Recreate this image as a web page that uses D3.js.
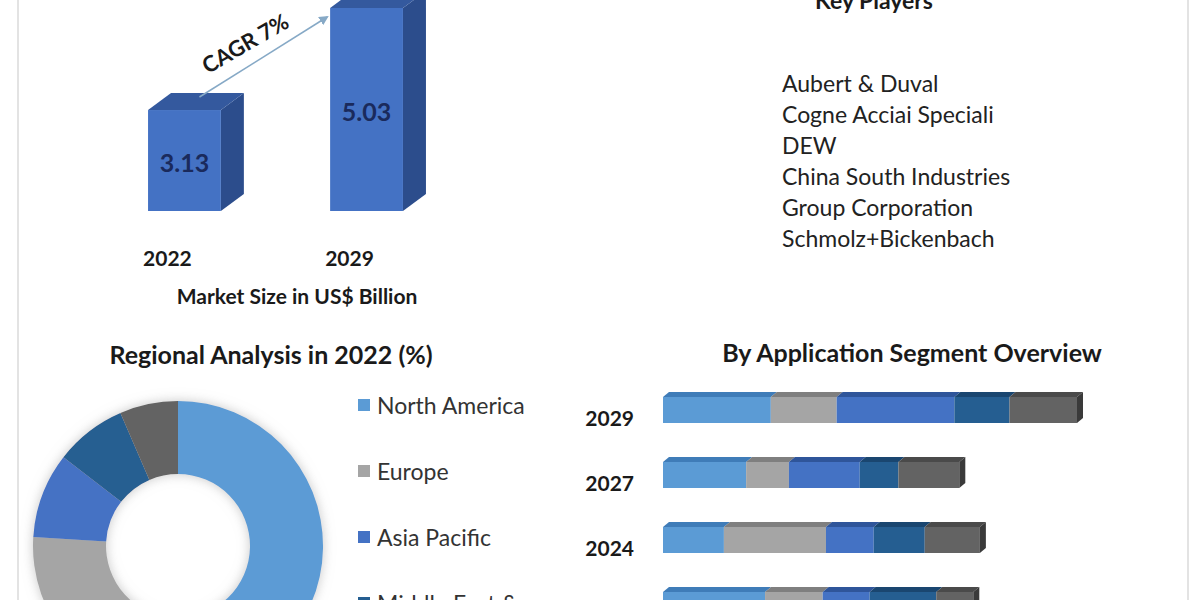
<!DOCTYPE html>
<html>
<head>
<meta charset="utf-8">
<script src="https://cdn.jsdelivr.net/npm/d3@7"></script>
<style>
  html, body { margin: 0; padding: 0; background: #ffffff; }
  svg { display: block; }
  text { font-family: Lato, "Open Sans", sans-serif; }
</style>
</head>
<body>
<svg id="chart" width="1200" height="600"></svg>
<script>
// ---------------- DATA ----------------
const marketYears = ["2022", "2029"];
const marketSize = [3.13, 5.03];
const cagrLabel = "CAGR 7%";
const marketTitle = "Market Size in US$ Billion";

const playersTitle = "Key Players";
const keyPlayers = [
  "Aubert & Duval",
  "Cogne Acciai Speciali",
  "DEW",
  "China South Industries",
  "Group Corporation",
  "Schmolz+Bickenbach"
];

const regionTitle = "Regional Analysis in 2022 (%)";
const regions = ["North America", "Europe", "Asia Pacific", "Middle East & Africa", "South America"];
const regionShare = [50.5, 25.5, 9.5, 8.0, 6.5];

const segmentTitle = "By Application Segment Overview";
const segmentYears = ["2029", "2027", "2024", "2022"];
const segment1 = [1.31, 1.01, 0.74, 1.24];
const segment2 = [0.80, 0.52, 1.24, 0.70];
const segment3 = [1.43, 0.86, 0.58, 0.57];
const segment4 = [0.67, 0.47, 0.62, 0.81];
const segment5 = [0.82, 0.74, 0.67, 0.45];

// ---------------- STYLE ----------------
const palette = ["#5b9bd5", "#a5a5a5", "#4472c4", "#255e91", "#636363"];
const paletteTop = ["#3f7cb8", "#7f7f7f", "#2f559a", "#1a4670", "#4a4a4a"];
const capColor = "#3a3a3a";
const textDark = "#1a1a1a";

const svg = d3.select("#chart");

// frame lines
svg.append("line").attr("x1", 18).attr("x2", 18).attr("y1", 0).attr("y2", 600)
  .attr("stroke", "#e3e3e3").attr("stroke-width", 2);
svg.append("line").attr("x1", 1188).attr("x2", 1188).attr("y1", 0).attr("y2", 600)
  .attr("stroke", "#e3e3e3").attr("stroke-width", 2);

// ---------------- MARKET SIZE 3D BARS ----------------
const xTop = d3.scaleBand().domain(marketYears).range([57, 494]).paddingInner(0.6).paddingOuter(0.5);
const yTop = d3.scaleLinear().domain([1.25, 5.03]).range([211, 8]);
const depthX = 23, depthY = 17;
const baseY = yTop(1.25);

const mg = svg.append("g");
marketYears.forEach((yr, i) => {
  const x0 = xTop(yr), w = xTop.bandwidth(), yt = yTop(marketSize[i]);
  mg.append("path")
    .attr("d", `M${x0 + w},${yt} L${x0 + w + depthX},${yt - depthY} L${x0 + w + depthX},${baseY - depthY} L${x0 + w},${baseY} Z`)
    .attr("fill", "#2c4d8c");
  mg.append("path")
    .attr("d", `M${x0},${yt} L${x0 + depthX},${yt - depthY} L${x0 + w + depthX},${yt - depthY} L${x0 + w},${yt} Z`)
    .attr("fill", "#34599e");
  mg.append("rect").attr("x", x0).attr("y", yt).attr("width", w).attr("height", baseY - yt)
    .attr("fill", "#4472c4");
  mg.append("text").attr("x", x0 + w / 2).attr("y", (yt + baseY) / 2 + 1)
    .attr("text-anchor", "middle").attr("dominant-baseline", "central")
    .attr("font-size", 25).attr("font-weight", 700).attr("fill", "#1a2a5c")
    .text(marketSize[i].toFixed(2));
  mg.append("text").attr("x", x0 - 5).attr("y", 257)
    .attr("dominant-baseline", "central")
    .attr("font-size", 21).attr("font-weight", 700).attr("fill", textDark)
    .text(yr);
});

// CAGR arrow
const defs = svg.append("defs");
defs.append("marker").attr("id", "arrowHead").attr("viewBox", "0 0 10 10")
  .attr("refX", 8).attr("refY", 5).attr("markerWidth", 6).attr("markerHeight", 6)
  .attr("orient", "auto")
  .append("path").attr("d", "M0,0 L10,5 L0,10 Z").attr("fill", "#86a9c6");

const ax1 = xTop(marketYears[0]) + xTop.bandwidth() / 2 + 15, ay1 = yTop(marketSize[0]) - 13;
const ax2 = xTop(marketYears[1]) - 3, ay2 = yTop(marketSize[1]) + 9;
mg.append("line").attr("x1", ax1).attr("y1", ay1).attr("x2", ax2).attr("y2", ay2)
  .attr("stroke", "#86a9c6").attr("stroke-width", 1.6).attr("marker-end", "url(#arrowHead)");
mg.append("text").attr("transform", "translate(245,43) rotate(-30)")
  .attr("text-anchor", "middle").attr("dominant-baseline", "central")
  .attr("font-size", 22).attr("font-weight", 700).attr("fill", textDark)
  .text(cagrLabel);

mg.append("text").attr("x", 297).attr("y", 295).attr("text-anchor", "middle")
  .attr("dominant-baseline", "central")
  .attr("font-size", 21).attr("font-weight", 700).attr("fill", textDark)
  .text(marketTitle);

// ---------------- KEY PLAYERS ----------------
svg.append("text").attr("x", 874).attr("y", 9).attr("text-anchor", "middle")
  .attr("font-size", 23).attr("font-weight", 700).attr("fill", textDark)
  .text(playersTitle);
const yPlayers = d3.scalePoint().domain(keyPlayers).range([83, 238]);
svg.append("g").selectAll("text").data(keyPlayers).join("text")
  .attr("x", 782).attr("y", d => yPlayers(d))
  .attr("dominant-baseline", "central")
  .attr("font-size", 23).attr("fill", "#222")
  .text(d => d);

// ---------------- REGIONAL DONUT ----------------
svg.append("text").attr("x", 271).attr("y", 354).attr("text-anchor", "middle")
  .attr("dominant-baseline", "central")
  .attr("font-size", 25).attr("font-weight", 700).attr("fill", textDark)
  .text(regionTitle);

const glow = defs.append("filter").attr("id", "glow").attr("x", "-20%").attr("y", "-20%")
  .attr("width", "140%").attr("height", "140%");
glow.append("feDropShadow").attr("dx", 0).attr("dy", 0).attr("stdDeviation", 6)
  .attr("flood-color", "#9a9a9a").attr("flood-opacity", 0.55);

const pie = d3.pie().sort(null).value(d => d)(regionShare);
const arc = d3.arc().innerRadius(72).outerRadius(145);
const dg = svg.append("g").attr("transform", "translate(178,546)").attr("filter", "url(#glow)");
dg.selectAll("path").data(pie).join("path")
  .attr("d", arc).attr("fill", (d, i) => palette[i]);

const legendY = d3.scalePoint().domain(regions).range([405, 669]);
const lg = svg.append("g");
regions.forEach((r, i) => {
  const y = legendY(r);
  lg.append("rect").attr("x", 358).attr("y", y - 6).attr("width", 12).attr("height", 12)
    .attr("fill", palette[i]);
  const t = lg.append("text").attr("x", 377).attr("y", y).attr("dominant-baseline", "central")
    .attr("font-size", 23).attr("fill", "#333");
  if (r.includes("& ")) {
    const parts = r.split("& ");
    t.append("tspan").attr("x", 377).text(parts[0] + "&");
    t.append("tspan").attr("x", 377).attr("dy", "1.2em").text(parts[1]);
  } else {
    t.text(r);
  }
});

// ---------------- APPLICATION SEGMENT STACKED 3D BARS ----------------
svg.append("text").attr("x", 912).attr("y", 352).attr("text-anchor", "middle")
  .attr("dominant-baseline", "central")
  .attr("font-size", 25).attr("font-weight", 700).attr("fill", textDark)
  .text(segmentTitle);

const segSeries = [segment1, segment2, segment3, segment4, segment5];
const rows = segmentYears.map((yr, i) => {
  const o = { year: yr };
  segSeries.forEach((s, k) => o["s" + k] = s[i]);
  return o;
});
const keys = segSeries.map((s, k) => "s" + k);
const stacked = d3.stack().keys(keys)(rows);

const xSeg = d3.scaleLinear().domain([0, 5.03]).range([663, 1077]);
const ySeg = d3.scaleBand().domain(segmentYears).range([392, 618]).paddingInner(34 / 65).paddingOuter(0);
const sdx = 6, sdy = 5;

const sg = svg.append("g");
stacked.forEach((layer, k) => {
  layer.forEach((d, i) => {
    const yr = segmentYears[i];
    const x0 = xSeg(d[0]), x1 = xSeg(d[1]);
    const yt = ySeg(yr), yb = yt + ySeg.bandwidth();
    sg.append("path")
      .attr("d", `M${x0},${yt + sdy} L${x0 + sdx},${yt} L${x1 + sdx},${yt} L${x1},${yt + sdy} Z`)
      .attr("fill", paletteTop[k]);
    sg.append("rect").attr("x", x0).attr("y", yt + sdy).attr("width", x1 - x0).attr("height", yb - yt - sdy)
      .attr("fill", palette[k]);
    if (k === keys.length - 1) {
      sg.append("path")
        .attr("d", `M${x1},${yt + sdy} L${x1 + sdx},${yt} L${x1 + sdx},${yb - sdy} L${x1},${yb} Z`)
        .attr("fill", capColor);
    }
  });
});

sg.selectAll("text.yr").data(segmentYears).join("text").attr("class", "yr")
  .attr("x", 634).attr("y", d => ySeg(d) + 25).attr("text-anchor", "end")
  .attr("dominant-baseline", "central")
  .attr("font-size", 21).attr("font-weight", 700).attr("fill", textDark)
  .text(d => d);
</script>
</body>
</html>
